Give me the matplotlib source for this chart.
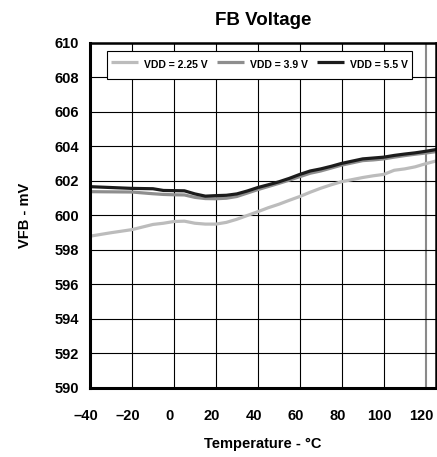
import matplotlib
matplotlib.use("Agg")
import matplotlib.pyplot as plt
import matplotlib.transforms as mtransforms

plt.rcParams['font.family'] = ['Liberation Sans', 'DejaVu Sans']
plt.rcParams['font.weight'] = 'bold'

# temperature sweep, degC
temps = [-40, -30, -20, -10, -5, 0, 5, 10, 15, 20, 25, 30, 35, 40, 45, 50,
         55, 60, 65, 70, 75, 80, 85, 90, 95, 100, 105, 110, 115, 120, 125]

# feedback voltage, mV
vfb_225 = [598.80, 599.00, 599.18, 599.48, 599.55, 599.65, 599.67, 599.55,
           599.50, 599.50, 599.60, 599.78, 600.00, 600.22, 600.45, 600.65,
           600.88, 601.10, 601.35, 601.58, 601.78, 601.96, 602.08, 602.20,
           602.30, 602.38, 602.62, 602.70, 602.82, 603.00, 603.16]
vfb_39 = [601.38, 601.37, 601.36, 601.26, 601.22, 601.20, 601.19, 601.05,
          600.98, 600.97, 601.00, 601.10, 601.30, 601.50, 601.68, 601.86,
          602.05, 602.25, 602.45, 602.58, 602.75, 602.92, 603.05, 603.18,
          603.22, 603.28, 603.38, 603.47, 603.55, 603.62, 603.70]
vfb_55 = [601.67, 601.62, 601.57, 601.55, 601.45, 601.44, 601.43, 601.25,
          601.12, 601.15, 601.17, 601.25, 601.42, 601.62, 601.78, 601.95,
          602.15, 602.38, 602.58, 602.70, 602.85, 603.02, 603.15, 603.28,
          603.33, 603.38, 603.48, 603.56, 603.63, 603.72, 603.82]

labels = ['VDD = 2.25 V', 'VDD = 3.9 V', 'VDD = 5.5 V']
colors = ['#bcbcbc', '#8e8e8e', '#1c1c1c']

xticks = list(range(-40, 121, 20))
yticks = list(range(590, 611, 2))

fig = plt.figure(figsize=(4.37, 4.57), dpi=100)
ax = fig.add_axes([0.206, 0.151, 0.792, 0.755])

for vals, lab, col in zip([vfb_225, vfb_39, vfb_55], labels, colors):
    ax.plot(temps, vals, color=col, lw=2.3, label=lab, solid_capstyle='butt')

ax.set_xlim(-40, 125)
ax.set_ylim(590, 610)
ax.set_xticks(xticks)
ax.set_yticks(yticks)
ax.set_xticklabels([str(t).replace('-', '\u2013') for t in xticks])
ax.tick_params(length=0, labelsize=10.5)
ax.tick_params(axis='x', pad=15)
ax.tick_params(axis='y', pad=8)

# x tick labels sit a little left of their grid lines
shift = mtransforms.ScaledTranslation(-4 / 100, 0, fig.dpi_scale_trans)
for lbl in ax.get_xticklabels():
    lbl.set_transform(lbl.get_transform() + shift)

ax.grid(True, color='black', lw=0.8)
ax.set_axisbelow(True)
ax.get_xgridlines()[-1].set_color('#8a8a8a')
ax.get_xgridlines()[-1].set_linewidth(1.5)

for side in ['left', 'bottom']:
    ax.spines[side].set_linewidth(2.2)
for side in ['top', 'right']:
    ax.spines[side].set_linewidth(1.8)

ax.set_title('FB Voltage', fontsize=13.5, fontweight='bold', pad=13)
ax.set_xlabel('Temperature - \u00b0C', fontsize=10.5, fontweight='bold', labelpad=10)
ax.set_ylabel('VFB - mV', fontsize=10.5, fontweight='bold', labelpad=16)

leg = ax.legend(loc='upper left', bbox_to_anchor=(0.049, 0.977), ncol=3,
                fontsize=7.5, frameon=True, fancybox=False, edgecolor='black',
                handlelength=2.6, handleheight=2.6, handletextpad=0.55,
                columnspacing=0.9, borderpad=0.4, borderaxespad=0,
                framealpha=1)
leg.get_frame().set_linewidth(0.8)

fig.savefig('out.png', dpi=100)
